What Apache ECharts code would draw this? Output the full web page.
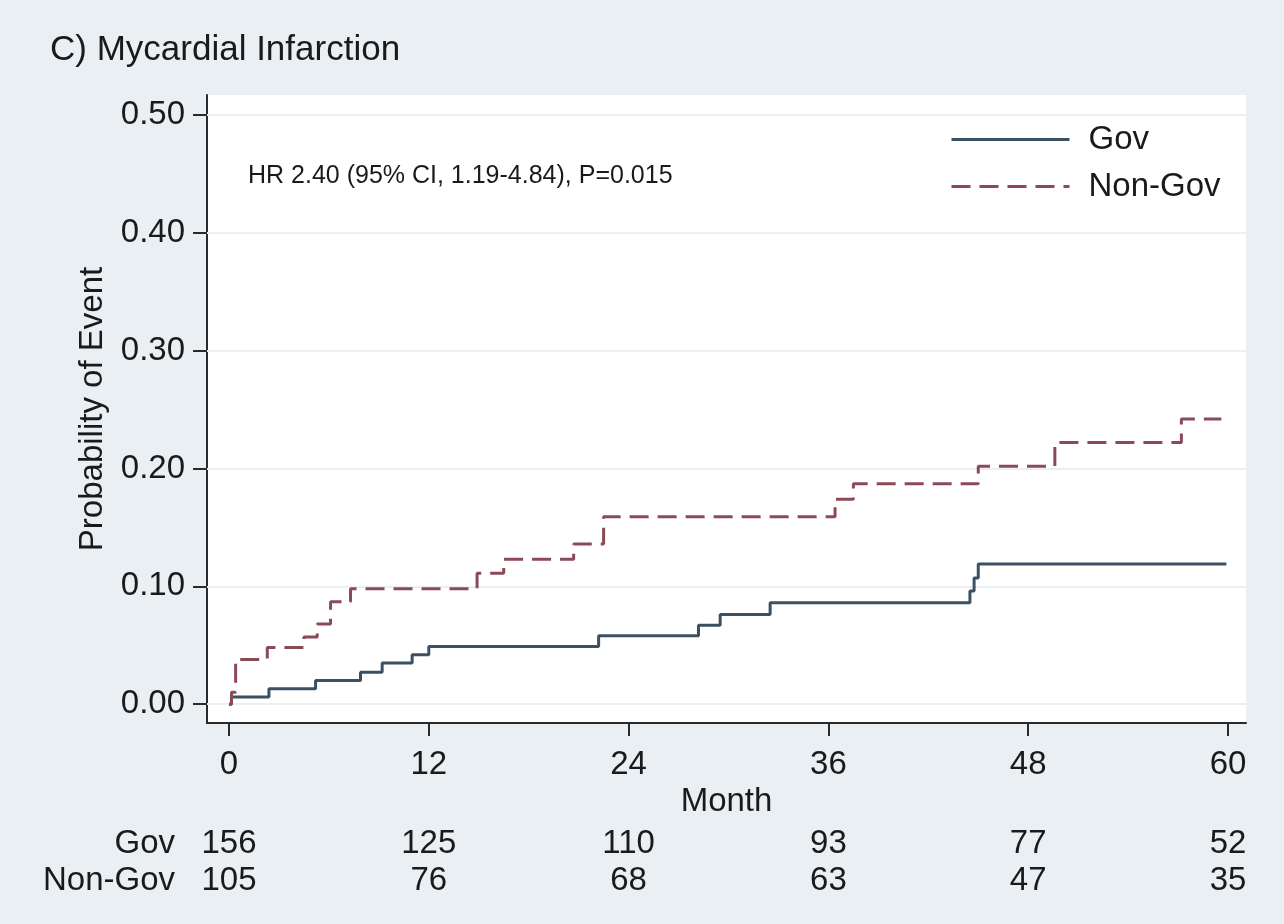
<!DOCTYPE html>
<html>
<head>
<meta charset="utf-8">
<script src="https://cdn.jsdelivr.net/npm/echarts@6/dist/echarts.min.js"></script>
<style>
  html, body { margin: 0; padding: 0; background: #eaeff3; }
  #chart { width: 1284px; height: 924px; }
</style>
</head>
<body>
<div id="chart"></div>
<script>
// Kaplan-Meier style cumulative event curves: [month, probability]
const govCurve = [
  [0, 0], [0.15, 0.006], [2.4, 0.013], [5.2, 0.020], [7.9, 0.027], [9.2, 0.035],
  [11.0, 0.042], [12.0, 0.049], [22.2, 0.058], [28.2, 0.067], [29.5, 0.076],
  [32.5, 0.086], [44.5, 0.096], [44.75, 0.107], [45.0, 0.119], [59.9, 0.119],
];
const nonGovCurve = [
  [0, 0], [0.15, 0.010], [0.4, 0.038], [2.3, 0.048], [4.5, 0.057], [5.3, 0.068],
  [6.1, 0.087], [7.3, 0.098], [14.9, 0.111], [16.5, 0.123], [20.7, 0.136],
  [22.5, 0.159], [36.4, 0.174], [37.5, 0.187], [45.0, 0.202], [49.6, 0.222],
  [57.2, 0.242], [59.6, 0.242],
];
const xTicks = [0, 12, 24, 36, 48, 60];
const yTicks = [0, 0.1, 0.2, 0.3, 0.4, 0.5];
const riskRows = ["Gov", "Non-Gov"];
const atRiskGov = [156, 125, 110, 93, 77, 52];
const atRiskNonGov = [105, 76, 68, 63, 47, 35];
const hrText = "HR 2.40 (95% CI, 1.19-4.84), P=0.015";

const FONT = "Liberation Sans, Arial, sans-serif";
const TXT = "#1a1a1a";
const FS = 33;
const X_MIN = -1.32, X_MAX = 61.08;

const chart = echarts.init(document.getElementById("chart"));

const riskData = (vals, row) => vals.map((v, i) => [xTicks[i], row, v]);

const option = {
  backgroundColor: "#eaeff3",
  animation: false,
  title: {
    text: "C) Mycardial Infarction",
    left: 45,
    top: 28,
    textStyle: { fontFamily: FONT, fontSize: 35, fontWeight: "normal", color: TXT },
  },
  legend: {
    left: 945,
    top: 118,
    orient: "vertical",
    itemWidth: 118,
    itemHeight: 33,
    itemGap: 14,
    data: ["Gov", "Non-Gov"],
    itemStyle: { opacity: 0 },
    lineStyle: { width: 3 },
    textStyle: { fontFamily: FONT, fontSize: FS, color: TXT, padding: [0, 0, 0, 14] },
  },
  graphic: [
    {
      type: "text",
      left: 248,
      top: 164,
      style: { text: hrText, font: "25px " + FONT, fill: TXT },
    },
  ],
  grid: [
    {
      left: 207, right: 38, top: 95, bottom: 201,
      show: true, backgroundColor: "#ffffff", borderWidth: 0,
    },
    { left: 207, right: 38, top: 825, height: 75 },
  ],
  xAxis: [
    {
      type: "value",
      gridIndex: 0,
      min: X_MIN,
      max: X_MAX,
      name: "Month",
      nameLocation: "middle",
      nameGap: 55,
      nameTextStyle: { fontFamily: FONT, fontSize: FS, color: TXT },
      axisLine: { onZero: false, lineStyle: { color: "#2a2a2a", width: 2 } },
      axisTick: { customValues: xTicks, length: 13, lineStyle: { color: "#2a2a2a", width: 2 } },
      axisLabel: {
        customValues: xTicks, margin: 25,
        fontFamily: FONT, fontSize: FS, color: TXT,
      },
      splitLine: { show: false },
    },
    {
      type: "value",
      gridIndex: 1,
      min: X_MIN,
      max: X_MAX,
      show: false,
    },
  ],
  yAxis: [
    {
      type: "value",
      gridIndex: 0,
      min: -0.016,
      max: 0.517,
      name: "Probability of Event",
      nameLocation: "middle",
      nameGap: 98,
      nameTextStyle: { fontFamily: FONT, fontSize: FS, color: TXT },
      axisLine: { show: true, onZero: false, lineStyle: { color: "#2a2a2a", width: 2 } },
      axisTick: { show: true, customValues: yTicks, length: 14, lineStyle: { color: "#2a2a2a", width: 2 } },
      axisLabel: {
        customValues: yTicks, margin: 22,
        fontFamily: FONT, fontSize: FS, color: TXT,
        formatter: (v) => v.toFixed(2),
      },
      splitLine: { show: false },
    },
    {
      type: "category",
      gridIndex: 1,
      data: riskRows,
      inverse: true,
      axisLine: { show: false },
      axisTick: { show: false },
      axisLabel: { interval: 0, margin: 32, fontFamily: FONT, fontSize: FS, color: TXT },
      splitLine: { show: false },
    },
  ],
  series: [
    {
      name: "Gov",
      type: "line",
      step: "end",
      symbol: "none",
      data: govCurve,
      color: "#3b5063",
      lineStyle: { color: "#3b5063", width: 3 },
      z: 3,
      markLine: {
        silent: true,
        symbol: "none",
        label: { show: false },
        lineStyle: { color: "#eceff1", width: 2, type: "solid" },
        data: yTicks.map((v) => ({ yAxis: v })),
        z: 1,
      },
    },
    {
      name: "Non-Gov",
      type: "line",
      step: "end",
      symbol: "none",
      data: nonGovCurve,
      color: "#8a4a57",
      lineStyle: { color: "#8a4a57", width: 3, type: [19, 9] },
      z: 3,
    },
    {
      type: "scatter",
      xAxisIndex: 1,
      yAxisIndex: 1,
      symbolSize: 0,
      itemStyle: { opacity: 1 },
      data: riskData(atRiskGov, 0).concat(riskData(atRiskNonGov, 1)),
      label: {
        show: true,
        position: "inside",
        formatter: (p) => String(p.value[2]),
        fontFamily: FONT, fontSize: FS, color: TXT, opacity: 1,
      },
      silent: true,
    },
  ],
};

chart.setOption(option);
</script>
</body>
</html>
